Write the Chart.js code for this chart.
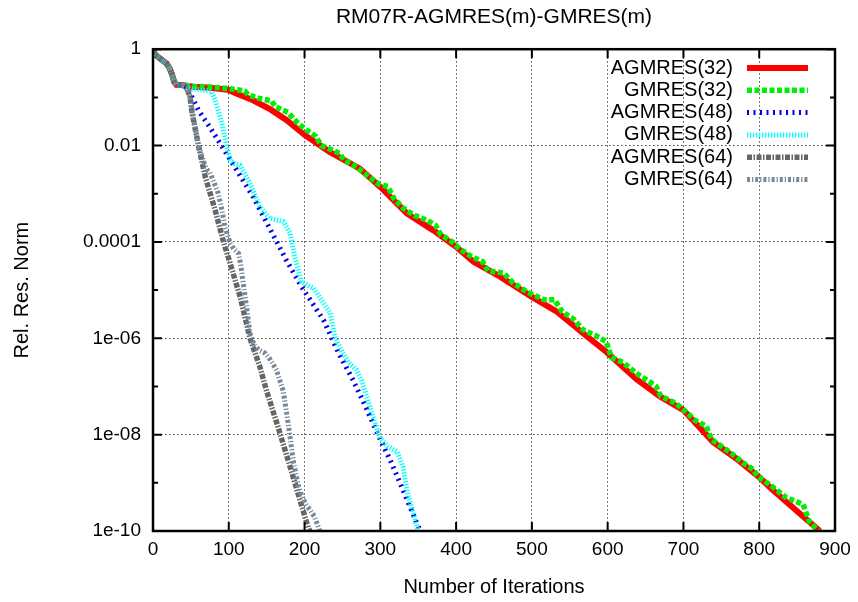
<!DOCTYPE html>
<html>
<head>
<meta charset="utf-8">
<script src="https://cdn.jsdelivr.net/npm/chart.js@4/dist/chart.umd.min.js"></script>
<style>
  html, body { margin: 0; padding: 0; background: #fff; }
</style>
</head>
<body>
<canvas id="chart" width="858" height="602"></canvas>
<script>
// iterations and log10 of the relative residual norm
const agmres32It  = [0,3,10,18,22,25,28,31,40,53,75,99,110,132,155,176,200,233,273,300,335,370,400,423,458,500,533,568,598,638,669,700,739,770,799,818,858,880];
const agmres32Log = [0,-0.12,-0.2,-0.3,-0.4,-0.52,-0.68,-0.74,-0.75,-0.78,-0.8,-0.84,-0.92,-1.06,-1.25,-1.47,-1.78,-2.13,-2.48,-2.86,-3.41,-3.76,-4.1,-4.41,-4.72,-5.14,-5.45,-5.9,-6.28,-6.85,-7.21,-7.49,-8.15,-8.5,-8.87,-9.15,-9.7,-10];

const gmres32It  = [0,3,10,18,22,25,28,31,40,53,80,100,115,121,126,140,156,162,178,189,200,215,222,235,246,252,262,273,285,298,310,318,330,345,362,373,380,395,405,420,435,442,463,475,495,516,530,540,555,567,585,598,605,620,640,655,664,670,690,705,715,730,737,760,780,792,798,815,835,858,866,878];
const gmres32Log = [0,-0.12,-0.2,-0.3,-0.4,-0.52,-0.68,-0.74,-0.75,-0.77,-0.79,-0.82,-0.85,-0.87,-0.95,-1.02,-1.07,-1.2,-1.31,-1.5,-1.65,-1.81,-2.0,-2.08,-2.16,-2.3,-2.38,-2.5,-2.65,-2.8,-2.85,-3.1,-3.3,-3.45,-3.55,-3.66,-3.85,-4.0,-4.15,-4.3,-4.41,-4.6,-4.65,-4.85,-5.05,-5.2,-5.2,-5.45,-5.6,-5.82,-5.95,-6.07,-6.4,-6.5,-6.75,-6.9,-7.0,-7.2,-7.35,-7.55,-7.7,-7.82,-8.1,-8.35,-8.6,-8.72,-8.87,-9.05,-9.3,-9.45,-9.8,-10];

const agmres48It  = [0,3,10,18,22,25,28,31,40,45,50,60,75,90,110,132,154,176,196,225,245,264,280,297,313,330,350,353];
const agmres48Log = [0,-0.12,-0.2,-0.3,-0.4,-0.52,-0.68,-0.74,-0.75,-0.8,-0.95,-1.27,-1.62,-1.99,-2.5,-3.06,-3.72,-4.38,-4.93,-5.62,-6.31,-6.87,-7.4,-8.0,-8.53,-9.15,-9.91,-10];

const gmres48It  = [0,3,10,18,22,25,28,31,40,50,65,77,82,86,92,97,102,108,115,128,141,154,165,172,181,187,196,204,212,222,234,240,250,258,268,275,282,289,300,310,322,330,335,346,350];
const gmres48Log = [0,-0.12,-0.2,-0.3,-0.4,-0.52,-0.68,-0.74,-0.75,-0.82,-0.85,-0.88,-1.05,-1.27,-1.6,-2.0,-2.3,-2.38,-2.41,-2.79,-3.27,-3.51,-3.55,-3.58,-3.82,-4.31,-4.83,-4.9,-4.96,-5.2,-5.48,-5.97,-6.3,-6.5,-6.65,-6.87,-7.2,-7.56,-8.08,-8.25,-8.35,-8.67,-9.15,-9.77,-10];

const agmres64It  = [0,3,10,18,22,25,28,31,40,45,49,51,55,60,69,82,93,99,115,128,141,150,165,181,194,205,207];
const agmres64Log = [0,-0.12,-0.2,-0.3,-0.4,-0.52,-0.68,-0.74,-0.75,-0.82,-1.0,-1.27,-1.6,-2.0,-2.65,-3.34,-4.0,-4.3,-5.14,-6.0,-6.59,-7.1,-7.84,-8.67,-9.36,-9.94,-10];

const gmres64It  = [0,3,10,18,22,25,28,31,40,45,49,52,56,61,66,71,75,80,86,91,95,102,107,113,116,119,124,128,134,140,148,155,163,172,179,185,192,197,202,207,213,218,220];
const gmres64Log = [0,-0.12,-0.2,-0.3,-0.4,-0.52,-0.68,-0.74,-0.75,-0.8,-1.0,-1.3,-1.65,-2.05,-2.3,-2.5,-2.55,-2.75,-2.99,-3.34,-3.69,-4.03,-4.15,-4.24,-4.5,-4.86,-5.4,-5.9,-6.15,-6.25,-6.31,-6.45,-6.66,-7.1,-7.84,-8.53,-9.08,-9.3,-9.45,-9.56,-9.7,-9.91,-10];

const yTickValues = [1e-10,1e-9,1e-8,1e-7,1e-6,1e-5,1e-4,1e-3,1e-2,1e-1,1];
const yTickLabels = ['1e-10','','1e-08','','1e-06','','0.0001','','0.01','','1'];

const FONT = 'Liberation Sans, Arial, sans-serif';

function pts(its, logs) {
  return its.map((x, i) => ({x: x, y: Math.pow(10, logs[i])}));
}

const series = [
  {label: 'AGMRES(32)', it: agmres32It, lg: agmres32Log, color: '#ff0000', width: 6, dash: []},
  {label: 'GMRES(32)',  it: gmres32It,  lg: gmres32Log,  color: '#00ee00', width: 5.5, dash: [5, 2.5]},
  {label: 'AGMRES(48)', it: agmres48It, lg: agmres48Log, color: '#0000ee', width: 5, dash: [2, 4.5]},
  {label: 'GMRES(48)',  it: gmres48It,  lg: gmres48Log,  color: '#00ffff', width: 5, dash: [1.3, 1.7]},
  {label: 'AGMRES(64)', it: agmres64It, lg: agmres64Log, color: '#666666', width: 5.5, dash: [5, 1.5, 1.5, 1.5]},
  {label: 'GMRES(64)',  it: gmres64It,  lg: gmres64Log,  color: '#778899', width: 5, dash: [3, 2, 1.2, 2]}
];

const datasets = series.map((s, i) => ({
  label: s.label,
  data: pts(s.it, s.lg),
  borderColor: s.color,
  backgroundColor: s.color,
  borderWidth: s.width,
  borderDash: s.dash,
  borderCapStyle: 'butt',
  pointRadius: 0,
  tension: 0,
  fill: false,
  order: series.length - i
}));

// inward ticks and heavy frame like gnuplot
const frameTicks = {
  id: 'frameTicks',
  afterDatasetsDraw(chart) {
    const {ctx, chartArea: a, scales} = chart;
    ctx.save();
    ctx.strokeStyle = '#000';
    ctx.lineWidth = 2;
    ctx.setLineDash([]);
    scales.x.ticks.forEach(t => {
      const px = scales.x.getPixelForValue(t.value);
      ctx.beginPath();
      ctx.moveTo(px, a.bottom); ctx.lineTo(px, a.bottom - 9);
      ctx.moveTo(px, a.top); ctx.lineTo(px, a.top + 9);
      ctx.stroke();
    });
    scales.y.ticks.forEach(t => {
      const py = scales.y.getPixelForValue(t.value);
      const len = t.label ? 9 : 5;
      ctx.beginPath();
      ctx.moveTo(a.left, py); ctx.lineTo(a.left + len, py);
      ctx.moveTo(a.right, py); ctx.lineTo(a.right - len, py);
      ctx.stroke();
    });
    ctx.lineWidth = 2.5;
    ctx.strokeRect(a.left, a.top, a.right - a.left, a.bottom - a.top);
    ctx.restore();
  }
};

// key at top right: label right-aligned, line sample to its right
const keyBox = {
  id: 'keyBox',
  afterDraw(chart) {
    const ctx = chart.ctx;
    ctx.save();
    ctx.font = '20px ' + FONT;
    ctx.fillStyle = '#000';
    ctx.textAlign = 'right';
    ctx.textBaseline = 'middle';
    chart.data.datasets.forEach((ds, i) => {
      const y = 68 + i * 22.3;
      ctx.fillText(ds.label, 733, y);
      ctx.strokeStyle = ds.borderColor;
      ctx.lineWidth = ds.borderWidth;
      ctx.setLineDash(ds.borderDash);
      ctx.lineCap = 'butt';
      ctx.beginPath();
      ctx.moveTo(747, y);
      ctx.lineTo(808, y);
      ctx.stroke();
    });
    ctx.restore();
  }
};

new Chart(document.getElementById('chart'), {
  type: 'line',
  data: {datasets: datasets},
  plugins: [frameTicks, keyBox],
  options: {
    responsive: false,
    animation: false,
    layout: {padding: {left: 0, right: 23, top: 0, bottom: 0}},
    plugins: {
      legend: {display: false},
      tooltip: {enabled: false},
      title: {
        display: true,
        text: 'RM07R-AGMRES(m)-GMRES(m)',
        fullSize: false,
        color: '#000',
        font: {family: FONT, size: 21, weight: 'normal'},
        padding: {top: 5, bottom: 19}
      }
    },
    scales: {
      x: {
        type: 'linear',
        min: 0,
        max: 900,
        ticks: {stepSize: 100, color: '#000', font: {family: FONT, size: 19}, padding: 7, maxRotation: 0},
        grid: {drawTicks: false, color: '#444', lineWidth: 1},
        border: {display: false, dash: [1.5, 2.5]},
        title: {display: true, text: 'Number of Iterations', color: '#000',
                font: {family: FONT, size: 20}, padding: {top: 0, bottom: 3}},
        afterFit(scale) { scale.height = 71; }
      },
      y: {
        type: 'logarithmic',
        min: 1e-10,
        max: 1,
        afterBuildTicks(scale) { scale.ticks = yTickValues.map(v => ({value: v})); },
        ticks: {
          color: '#000',
          font: {family: FONT, size: 19},
          padding: 12,
          autoSkip: false,
          callback: (v, i) => yTickLabels[i]
        },
        grid: {
          drawTicks: false,
          lineWidth: 1,
          color: ctx => (ctx.tick && ctx.tick.label) ? '#444' : 'rgba(0,0,0,0)'
        },
        border: {display: false, dash: [1.5, 2.5]},
        title: {display: true, text: 'Rel. Res. Norm', color: '#000',
                font: {family: FONT, size: 20}, padding: {top: 10, bottom: 0}},
        afterFit(scale) { scale.width = 153; }
      }
    }
  }
});
</script>
</body>
</html>
